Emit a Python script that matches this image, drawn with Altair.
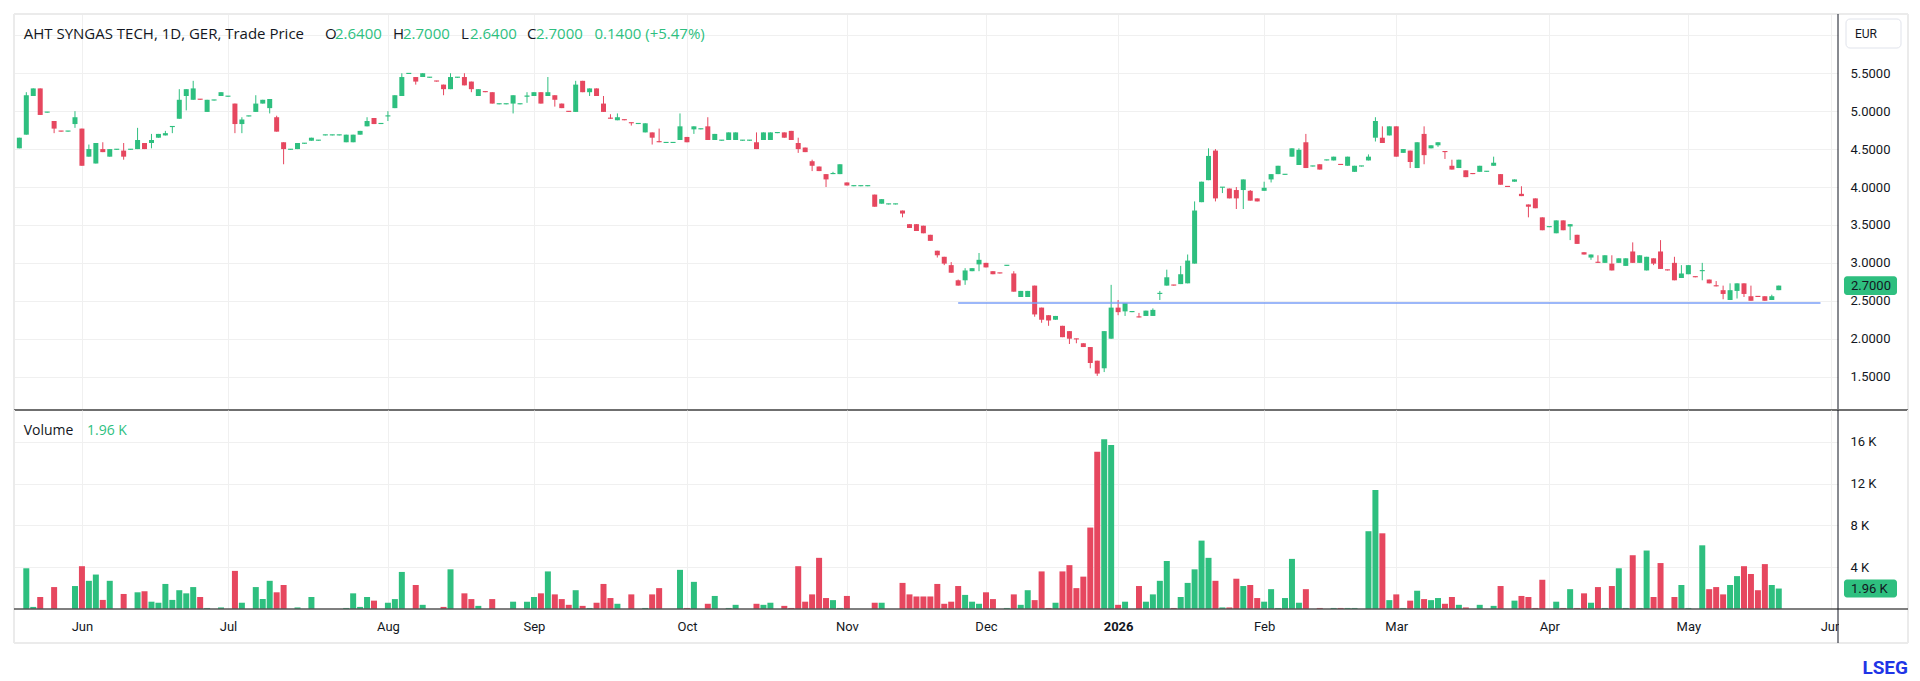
import altair as alt
import pandas as pd

FONT = "Roboto"
TFONT = "Open Sans"
GREEN = "#2ebf7f"
RED = "#e6475f"
TEXT = "#131722"
GRID = "#f0f0f0"
N_ = None

# ---------------- data ----------------
OPEN = [
    4.51, 4.69, 5.20, 5.30, 4.98, 4.87, 4.74, 4.73, 4.83, 4.77,
    4.40, 4.31, 4.50, 4.40, 4.49, 4.48, 4.49, 4.50, 4.58, 4.58,
    4.65, 4.68, 4.79, 4.90, 5.20, 5.15, 5.16, 4.99, 5.14, 5.20,
    5.19, 5.10, 4.83, 4.93, 4.99, 5.10, 5.04, 4.92, 4.59, 4.49,
    4.50, 4.57, 4.61,
    4.61, 4.68, 4.68, 4.68, 4.59, 4.59, 4.69, 4.80, 4.91, 4.83,
    4.93, 5.04, 5.20, 5.49, 5.45, 5.45, 5.44, 5.40, 5.35, 5.29,
    5.44, 5.45, 5.39, 5.20, 5.26, 5.25, 5.09, 5.09, 5.10, 5.09,
    5.19, 5.20, 5.25, 5.20, 5.21, 5.10, 5.00, 4.99, 5.40, 5.25,
    5.30, 5.10, 4.91,
    4.88, 4.89, 4.85, 4.83, 4.72, 4.72, 4.60, 4.58, 4.58, 4.62,
    4.66, 4.76, 4.76, 4.80, 4.62, 4.61, 4.62, 4.62, 4.61, 4.61,
    4.59, 4.62, 4.62, 4.71, 4.72, 4.74, 4.58, 4.52, 4.34, 4.27,
    4.17, 4.17, 4.17, 4.06, 4.01, 4.01, 4.01, 3.90, 3.78, 3.77,
    3.77, 3.69, 3.51,
    3.51, 3.49, 3.37, 3.16, 3.08, 2.97, 2.77, 2.77, 2.89, 2.98,
    3.00, 2.89, 2.87, 2.96, 2.86, 2.55, 2.55, 2.70, 2.41, 2.31,
    2.25, 2.17, 2.10, 2.00, 1.94, 1.89, 1.71, 1.61, 2.00, 2.41,
    2.36, 2.35, 2.29, 2.30, 2.30, 2.59, 2.70, 2.71, 2.72, 2.73,
    2.99, 3.80, 4.09,
    4.48, 3.99, 3.98, 3.96, 3.96, 3.95, 3.85, 3.95, 4.10, 4.17,
    4.16, 4.40, 4.29, 4.59, 4.27, 4.30, 4.35, 4.35, 4.30, 4.28,
    4.20, 4.27, 4.35, 4.65, 4.65, 4.68, 4.80, 4.45, 4.48, 4.25,
    4.70, 4.51, 4.55, 4.47, 4.28, 4.25, 4.22, 4.18, 4.20, 4.20,
    4.28, 4.17, 4.01,
    4.07, 3.91, 3.77, 3.85, 3.60, 3.47, 3.39, 3.56, 3.48, 3.37,
    3.14, 3.07, 3.01, 3.00, 2.99, 3.00, 2.96, 3.15, 3.00, 2.90,
    3.06, 3.15, 2.91, 3.00, 2.80, 2.85, 2.82, 2.89, 2.78, 2.70,
    2.64, 2.51, 2.63, 2.73, 2.56, 2.56, 2.56, 2.51, 2.64,
]
CLOSE = [
    4.65, 5.21, 5.30, 4.95, 4.99, 4.77, 4.73, 4.74, 4.92, 4.28,
    4.50, 4.58, 4.46, 4.50, 4.50, 4.40, 4.50, 4.62, 4.50, 4.62,
    4.70, 4.71, 4.80, 5.15, 5.29, 5.30, 5.15, 5.15, 5.15, 5.25,
    5.20, 4.83, 4.89, 4.94, 5.10, 5.15, 5.16, 4.73, 4.50, 4.50,
    4.58, 4.58, 4.65,
    4.62, 4.69, 4.69, 4.69, 4.69, 4.69, 4.74, 4.87, 4.83, 4.84,
    4.94, 5.21, 5.45, 5.50, 5.39, 5.50, 5.45, 5.39, 5.29, 5.45,
    5.45, 5.34, 5.29, 5.29, 5.25, 5.10, 5.10, 5.10, 5.21, 5.10,
    5.20, 5.25, 5.10, 5.25, 5.15, 5.04, 4.99, 5.35, 5.25, 5.30,
    5.20, 4.99, 4.90,
    4.92, 4.88, 4.84, 4.84, 4.84, 4.65, 4.59, 4.59, 4.59, 4.80,
    4.59, 4.80, 4.77, 4.62, 4.70, 4.62, 4.72, 4.72, 4.62, 4.62,
    4.50, 4.72, 4.72, 4.72, 4.65, 4.62, 4.50, 4.46, 4.28, 4.21,
    4.10, 4.18, 4.30, 4.02, 4.02, 4.02, 4.02, 3.74, 3.84, 3.78,
    3.78, 3.65, 3.46,
    3.42, 3.39, 3.29, 3.10, 2.99, 2.87, 2.70, 2.90, 2.93, 3.04,
    2.94, 2.85, 2.86, 2.97, 2.62, 2.63, 2.63, 2.32, 2.25, 2.24,
    2.30, 2.02, 2.00, 1.99, 1.89, 1.68, 1.54, 2.10, 2.41, 2.35,
    2.47, 2.36, 2.28, 2.37, 2.38, 2.60, 2.81, 2.70, 2.85, 3.03,
    3.69, 4.07, 4.41,
    3.85, 4.00, 3.85, 3.85, 4.10, 3.82, 3.81, 3.99, 4.17, 4.28,
    4.17, 4.51, 4.49, 4.25, 4.28, 4.23, 4.36, 4.40, 4.29, 4.40,
    4.28, 4.28, 4.40, 4.87, 4.58, 4.80, 4.40, 4.50, 4.33, 4.59,
    4.42, 4.55, 4.59, 4.46, 4.23, 4.36, 4.13, 4.17, 4.28, 4.21,
    4.32, 4.03, 4.00,
    4.10, 3.88, 3.74, 3.72, 3.43, 3.48, 3.56, 3.43, 3.51, 3.25,
    3.11, 3.11, 3.00, 3.10, 2.90, 3.06, 3.06, 3.00, 3.10, 3.08,
    2.99, 2.92, 2.90, 2.77, 2.86, 2.97, 2.81, 2.90, 2.73, 2.69,
    2.59, 2.64, 2.73, 2.59, 2.50, 2.55, 2.50, 2.56, 2.70,
]
# None = no wick beyond the body
HIGH = [
    N_, 5.25, N_, N_, N_, N_, N_, N_, 5.00, N_,
    4.56, N_, 4.59, N_, N_, 4.58, N_, 4.78, N_, 4.70,
    N_, 4.74, N_, 5.29, N_, 5.40, N_, N_, N_, N_,
    N_, N_, 4.92, N_, 5.21, N_, N_, 4.94, N_, N_,
    N_, N_, N_,
    N_, N_, N_, N_, N_, N_, N_, 4.92, N_, N_,
    5.00, N_, 5.50, N_, N_, N_, N_, N_, N_, 5.50,
    N_, 5.50, N_, N_, N_, N_, N_, N_, N_, N_,
    5.25, N_, N_, 5.45, N_, N_, N_, 5.40, N_, N_,
    N_, 5.20, 4.96,
    4.97, N_, N_, N_, N_, N_, 4.77, N_, N_, 4.97,
    N_, N_, N_, 4.92, N_, N_, N_, N_, N_, N_,
    4.72, N_, N_, N_, N_, N_, 4.65, N_, 4.36, N_,
    N_, 4.20, N_, N_, N_, N_, N_, N_, N_, N_,
    N_, N_, N_,
    N_, N_, N_, N_, N_, 3.01, 2.78, 2.93, N_, 3.13,
    N_, N_, N_, N_, 2.89, N_, N_, N_, N_, N_,
    N_, N_, N_, N_, N_, N_, N_, N_, 2.71, 2.51,
    N_, N_, 2.34, N_, 2.40, 2.63, 2.91, N_, 2.96, 3.11,
    3.81, N_, 4.51,
    4.50, N_, N_, 4.00, N_, 3.96, N_, 4.07, N_, N_,
    N_, N_, 4.51, 4.70, N_, N_, N_, N_, N_, N_,
    N_, N_, 4.43, 4.92, 4.80, N_, N_, N_, N_, N_,
    4.80, N_, N_, N_, 4.36, N_, N_, N_, N_, N_,
    4.40, N_, N_,
    N_, 4.01, N_, N_, N_, N_, N_, N_, N_, N_,
    N_, N_, 3.10, N_, 3.10, N_, N_, 3.27, N_, N_,
    N_, 3.30, N_, 3.08, 2.97, N_, N_, 3.00, N_, 2.76,
    2.70, 2.73, N_, N_, 2.70, N_, N_, 2.58, N_,
]
LOW = [
    N_, N_, N_, N_, N_, 4.71, N_, N_, 4.78, N_,
    N_, N_, N_, N_, N_, 4.36, N_, N_, N_, 4.51,
    N_, N_, 4.71, N_, 5.01, N_, N_, N_, N_, N_,
    N_, 4.71, 4.71, N_, N_, N_, 4.97, N_, 4.30, N_,
    N_, N_, N_,
    N_, N_, N_, N_, N_, N_, N_, N_, N_, N_,
    4.87, N_, N_, N_, 5.35, N_, N_, N_, 5.21, N_,
    N_, N_, 5.25, N_, N_, N_, N_, N_, 4.97, N_,
    5.11, N_, N_, N_, 5.06, N_, N_, N_, N_, 5.20,
    N_, N_, N_,
    N_, N_, 4.81, N_, N_, 4.56, N_, N_, N_, N_,
    N_, 4.70, N_, N_, N_, N_, N_, N_, N_, N_,
    N_, N_, N_, N_, N_, N_, 4.45, N_, 4.21, N_,
    4.00, N_, N_, N_, N_, N_, N_, N_, N_, N_,
    N_, 3.60, N_,
    N_, N_, N_, 3.07, 2.97, N_, N_, 2.71, N_, 2.89,
    N_, N_, N_, N_, N_, N_, N_, 2.29, 2.21, 2.17,
    N_, N_, 1.93, 1.94, N_, 1.61, 1.51, 1.56, N_, 2.31,
    2.30, N_, N_, N_, N_, 2.51, N_, N_, N_, N_,
    N_, N_, N_,
    3.81, 3.92, N_, 3.71, 3.71, N_, N_, N_, 4.06, N_,
    N_, N_, N_, N_, N_, N_, N_, N_, N_, N_,
    N_, N_, N_, 4.60, N_, N_, N_, N_, 4.25, N_,
    4.30, N_, 4.53, 4.37, N_, N_, N_, N_, N_, N_,
    N_, N_, N_,
    N_, N_, 3.60, N_, N_, N_, N_, N_, 3.30, N_,
    N_, 3.04, N_, N_, N_, N_, N_, N_, N_, N_,
    2.97, N_, N_, N_, N_, N_, N_, 2.77, N_, N_,
    2.52, N_, 2.53, 2.55, N_, N_, N_, N_, N_,
]
VOLUME_K = [
    0, 3.9, 0.2, 1.15, 0, 2.1, 0, 0, 2.2, 4.1,
    2.7, 3.3, 0.87, 2.7, 0, 1.44, 0, 1.6, 1.7, 0.7,
    0.6, 2.4, 0.87, 1.8, 1.5, 2.1, 1.15, 0.1, 0, 0.15,
    0, 3.65, 0.6, 0, 2.1, 0.96, 2.7, 1.6, 2.3, 0,
    0.15, 0, 1.15,
    0, 0, 0, 0, 0.1, 1.5, 0.2, 1.15, 0.8, 0,
    0.6, 0.95, 3.55, 0, 2.3, 0.4, 0, 0, 0.2, 3.8,
    0, 1.5, 0.95, 0.3, 0, 0.95, 0, 0, 0.7, 0,
    0.7, 1.15, 1.5, 3.6, 1.4, 0.95, 0.4, 1.8, 0.3, 0.1,
    0.6, 2.4, 1.05,
    0.5, 0, 1.4, 0, 0.1, 1.4, 2.0, 0, 0, 3.75,
    0.1, 2.6, 0, 0.5, 1.25, 0, 0.1, 0.4, 0, 0,
    0.5, 0.4, 0.6, 0, 0.3, 0.1, 4.1, 0.7, 1.4, 4.9,
    1.05, 0.85, 0.1, 1.25, 0, 0, 0, 0.6, 0.6, 0,
    0, 2.5, 1.4,
    1.2, 1.2, 1.2, 2.4, 0.5, 0.7, 2.2, 1.35, 0.7, 0.5,
    1.6, 0.95, 0, 0.1, 1.4, 0.4, 1.8, 0.85, 3.6, 0.1,
    0.6, 3.6, 4.2, 2.0, 3.1, 7.8, 15.05, 16.25, 15.7, 0.4,
    0.7, 0, 2.2, 0.7, 1.4, 2.7, 4.6, 0.1, 1.15, 2.5,
    3.8, 6.55, 4.9,
    2.7, 0.15, 0.15, 2.9, 2.2, 2.3, 1.05, 0.7, 1.9, 0.1,
    1.05, 4.8, 0.6, 1.9, 0, 0.1, 0, 0.1, 0.1, 0.1,
    0.1, 0, 7.45, 11.4, 7.25, 0.85, 1.4, 0.1, 0.8, 1.75,
    0.95, 0.85, 1.05, 0.5, 1.15, 0.4, 0.15, 0, 0.4, 0,
    0.3, 2.2, 0,
    0.8, 1.25, 1.15, 0.1, 2.8, 0, 0.7, 0.1, 1.9, 0.1,
    1.5, 0.6, 2.1, 0.1, 2.2, 3.9, 0.1, 5.15, 0.1, 5.6,
    1.15, 4.4, 0, 1.15, 2.3, 0.1, 0, 6.1, 1.9, 2.1,
    1.4, 2.3, 3.15, 4.1, 3.35, 1.8, 4.3, 2.3, 1.96,
]

MONTH_IDX = [9, 30, 53, 74, 96, 119, 139, 158, 179, 198, 220, 240, 260.5]
MONTH_LBL = ["Jun", "Jul", "Aug", "Sep", "Oct", "Nov", "Dec", "2026",
             "Feb", "Mar", "Apr", "May", "Jun"]
PRICE_TICKS = [1.5, 2.0, 2.5, 3.0, 3.5, 4.0, 4.5, 5.0, 5.5, 6.0]
VOL_TICKS = [4, 8, 12, 16]

LEVEL_START, LEVEL_END, LEVEL_PRICE = 135, 259, 2.47
LAST_PRICE = 2.70
LAST_VOL = 1.96

# ---------------- table ----------------
rows = []
for i in range(len(OPEN)):
    o, c = OPEN[i], CLOSE[i]
    bhi, blo = max(o, c), min(o, c)
    rows.append(dict(
        i=i, o=o, c=c,
        h=HIGH[i] if HIGH[i] is not None else bhi,
        l=LOW[i] if LOW[i] is not None else blo,
        blo=blo, bhi=max(bhi, blo + 0.015),
        v=VOLUME_K[i],
        dir="up" if c >= o else "down",
    ))
df = pd.DataFrame(rows)
one = pd.DataFrame({"k": [0]})
level_df = pd.DataFrame({"x0": [LEVEL_START], "x1": [LEVEL_END], "p": [LEVEL_PRICE]})

W, HP, HV = 1824, 396, 199
FRAME_W = 1894
BELOW = 34          # frame continues below the volume pane (axis label strip)
xscale = alt.Scale(domain=[-0.05, 260.8], nice=False, zero=False)
pscale = alt.Scale(domain=[1.06, 6.281], nice=False, zero=False)
vscale = alt.Scale(domain=[0, 19.06], nice=False, zero=True)
color = alt.Color("dir:N", scale=alt.Scale(domain=["up", "down"], range=[GREEN, RED]), legend=None)

month_expr = "[" + ",".join("'%s'" % m for m in MONTH_LBL) + "][indexof([" + \
    ",".join(str(v) for v in MONTH_IDX) + "], datum.value)]"

x_axis_top = alt.Axis(values=MONTH_IDX, labels=False, ticks=False, domain=False,
                      grid=True, gridColor=GRID, title=None)
x_axis_bot = alt.Axis(values=MONTH_IDX, labelExpr=month_expr, ticks=False, domain=False,
                      grid=True, gridColor=GRID, title=None, labelFont=FONT,
                      labelFontSize=13, labelColor=TEXT, labelPadding=11,
                      labelFlush=False, labelOverlap=False,
                      labelFontWeight={"condition": {"test": "datum.value == 158", "value": "bold"},
                                       "value": "normal"})
p_axis = alt.Axis(orient="right", values=PRICE_TICKS,
                  labelExpr="datum.value > 5.9 ? '' : format(datum.value, '.4f')",
                  ticks=False, domain=False, grid=True, gridColor=GRID, title=None,
                  labelFont=FONT, labelFontSize=13, labelColor=TEXT, labelPadding=12)
v_axis = alt.Axis(orient="right", values=VOL_TICKS, labelExpr="datum.value + ' K'",
                  ticks=False, domain=False, grid=True, gridColor=GRID, title=None,
                  labelFont=FONT, labelFontSize=13, labelColor=TEXT, labelPadding=12)


def label(txt, x, y, col=TEXT, size=15, weight="normal", align="left", font=TFONT):
    return alt.Chart(one).mark_text(text=txt, align=align, baseline="middle", font=font,
                                    fontSize=size, fontWeight=weight, color=col).encode(
        x=alt.value(x), y=alt.value(y))


# ---------------- price pane ----------------
wicks = alt.Chart(df).mark_rule(strokeWidth=1).encode(
    x=alt.X("i:Q", scale=xscale, axis=x_axis_top),
    y=alt.Y("l:Q", scale=pscale, axis=p_axis),
    y2="h:Q", color=color)
bodies = alt.Chart(df).mark_bar(size=5).encode(
    x=alt.X("i:Q"), y=alt.Y("blo:Q"), y2="bhi:Q", color=color)
level = alt.Chart(level_df).mark_rule(color="#7b9ff7", strokeWidth=1.5).encode(
    x="x0:Q", x2="x1:Q", y="p:Q")

title_parts = [
    label("AHT SYNGAS TECH, 1D, GER, Trade Price", 9.7, 20),
    label("O", 311, 20), label("2.6400", 321, 20, GREEN),
    label("H", 379, 20), label("2.7000", 389, 20, GREEN),
    label("L", 447, 20), label("2.6400", 456, 20, GREEN),
    label("C", 513, 20), label("2.7000", 522, 20, GREEN),
    label("0.1400 (+5.47%)", 580.5, 20, GREEN),
]

p_tag = alt.Chart(one).mark_rect(color=GREEN, cornerRadius=3).encode(
    x=alt.value(W + 6), x2=alt.value(W + 59),
    y=alt.datum(LAST_PRICE + 0.125), y2=alt.datum(LAST_PRICE - 0.125))
p_tag_txt = alt.Chart(one).mark_text(text="2.7000", align="left", baseline="middle",
                                     font=FONT, fontSize=13, color=TEXT).encode(
    x=alt.value(W + 13), y=alt.datum(LAST_PRICE))
eur_box = alt.Chart(one).mark_rect(fill="white", stroke="#e0e3eb", strokeWidth=1,
                                   cornerRadius=4).encode(
    x=alt.value(W + 8), x2=alt.value(W + 63), y=alt.value(5), y2=alt.value(34))
eur_txt = label("EUR", W + 17, 20, TEXT, 12, font=FONT)
frame_top = alt.Chart(one).mark_rule(color="#ebebeb", strokeWidth=2).encode(
    x=alt.value(0), x2=alt.value(FRAME_W), y=alt.value(0))
frame_l = alt.Chart(one).mark_rule(color="#ebebeb", strokeWidth=2).encode(
    x=alt.value(0), y=alt.value(0), y2=alt.value(HP))
frame_r = alt.Chart(one).mark_rule(color="#ebebeb", strokeWidth=2).encode(
    x=alt.value(FRAME_W), y=alt.value(0), y2=alt.value(HP))
axis_line = alt.Chart(one).mark_rule(color=TEXT, strokeWidth=1).encode(
    x=alt.value(W), y=alt.value(0), y2=alt.value(HP))
separator = alt.Chart(one).mark_rule(color="#6f6f6f", strokeWidth=2).encode(
    x=alt.value(0), x2=alt.value(FRAME_W), y=alt.value(HP))

price = alt.layer(frame_top, frame_l, frame_r, wicks, bodies, level, *title_parts, p_tag,
                  eur_box, eur_txt, axis_line, separator, p_tag_txt).properties(width=W, height=HP)

# ---------------- volume pane ----------------
vbars = alt.Chart(df).mark_bar(size=6).encode(
    x=alt.X("i:Q", scale=xscale, axis=x_axis_bot),
    y=alt.Y("v:Q", scale=vscale, axis=v_axis),
    color=color)
vol_lbl = label("Volume", 9.7, 21, size=14)
vol_val = label("1.96 K", 73, 21, GREEN, size=14)
v_tag = alt.Chart(one).mark_rect(color=GREEN, cornerRadius=3).encode(
    x=alt.value(W + 6), x2=alt.value(W + 59),
    y=alt.datum(LAST_VOL + 0.86), y2=alt.datum(LAST_VOL - 0.86))
v_tag_txt = alt.Chart(one).mark_text(text="1.96 K", align="left", baseline="middle",
                                     font=FONT, fontSize=13, color=TEXT).encode(
    x=alt.value(W + 13), y=alt.datum(LAST_VOL))
cover = alt.Chart(one).mark_rect(color="white").encode(
    x=alt.value(W + 1), x2=alt.value(W + 68), y=alt.value(HV + 1.5), y2=alt.value(HV + BELOW - 2))
vframe_l = alt.Chart(one).mark_rule(color="#ebebeb", strokeWidth=2).encode(
    x=alt.value(0), y=alt.value(0), y2=alt.value(HV + BELOW))
vframe_r = alt.Chart(one).mark_rule(color="#ebebeb", strokeWidth=2).encode(
    x=alt.value(FRAME_W), y=alt.value(0), y2=alt.value(HV + BELOW))
vframe_b = alt.Chart(one).mark_rule(color="#ebebeb", strokeWidth=2).encode(
    x=alt.value(0), x2=alt.value(FRAME_W), y=alt.value(HV + BELOW))
bottom_line = alt.Chart(one).mark_rule(color="#555555", strokeWidth=1.5).encode(
    x=alt.value(0), x2=alt.value(FRAME_W), y=alt.value(HV))
axis_line2 = alt.Chart(one).mark_rule(color=TEXT, strokeWidth=1).encode(
    x=alt.value(W), y=alt.value(0), y2=alt.value(HV + BELOW))
lseg = label("LSEG", FRAME_W, HV + 59, "#1f35e6", 19, "bold", "right", FONT)

volume = alt.layer(vframe_l, vframe_r, vframe_b, vbars, vol_lbl, vol_val, cover, v_tag,
                   v_tag_txt, bottom_line, axis_line2, lseg).properties(width=W, height=HV)

chart = alt.vconcat(price, volume, spacing=0).properties(
    padding={"left": 5, "top": 5, "right": 0, "bottom": 0},
    background="white",
    bounds="flush",
).configure_view(stroke=None)

chart.save("out.html", embed_options={"renderer": "svg", "actions": False})
